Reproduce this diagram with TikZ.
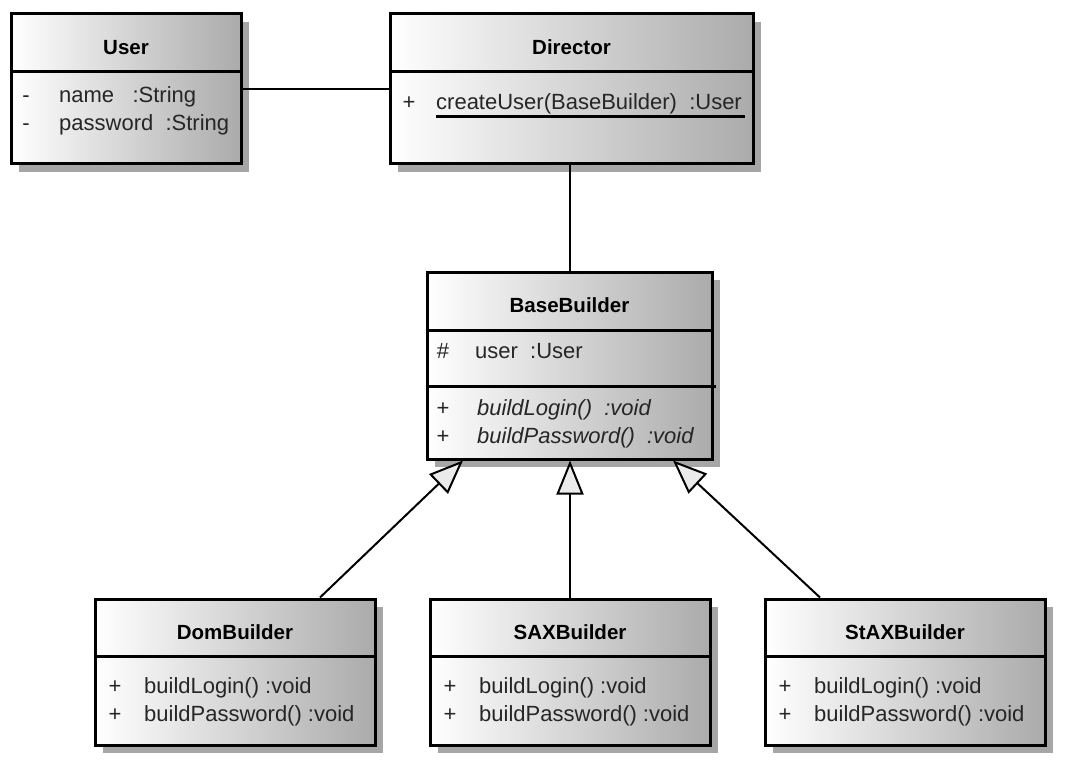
\documentclass[tikz,border=0pt]{standalone}
\usepackage{fontspec}
\setmainfont{Liberation Sans}
\usetikzlibrary{calc,shadows,arrows.meta}

\begin{document}
\begin{tikzpicture}[x=1pt, y=-1pt,
	cls/.style={draw, line width=3pt, inner sep=0, left color=white, right color=black!33,
		drop shadow={shadow xshift=8pt, shadow yshift=-8pt, fill=black!35, opacity=1}},
	title/.style={anchor=base, inner sep=0, font=\fontsize{20.5}{24}\selectfont\bfseries},
	vis/.style={anchor=base, inner sep=0, font=\fontsize{22}{26}\selectfont, text=black!85},
	member/.style={anchor=base west, inner sep=0, font=\fontsize{22}{26}\selectfont, text=black!85},
	divider/.style={line width=3pt},
	assoc/.style={line width=2pt},
	inherit/.style={line width=2pt, -{Triangle[open, fill=black!8, length=34pt, width=27pt]}}]
	\useasboundingbox (0,0) rectangle (1070,770);
	% classes
	\node [cls, minimum width=230, minimum height=150] (user) at (126,89) {};
	\node [cls, minimum width=363, minimum height=150] (director) at (571.5,89) {};
	\node [cls, minimum width=285, minimum height=187] (base) at (569.5,365.5) {};
	\node [cls, minimum width=280, minimum height=146] (dom) at (235,672) {};
	\node [cls, minimum width=280, minimum height=146] (sax) at ($(dom)+(335,0)$) {};
	\node [cls, minimum width=280, minimum height=146] (stax) at ($(sax)+(335,0)$) {};

	\draw [divider] (user.west |- 0,72) -- (user.east |- 0,72);
	\draw [divider] (director.west |- 0,72) -- (director.east |- 0,72);
	\draw [divider] (base.west |- 0,330) -- (base.east |- 0,330);
	\draw [divider] (base.west |- 0,386) -- (716,386);
	\draw [divider] (dom.west |- 0,656) -- (dom.east |- 0,656);
	\draw [divider] (sax.west |- 0,656) -- (sax.east |- 0,656);
	\draw [divider] (stax.west |- 0,656) -- (stax.east |- 0,656);

	% User
	\node [title] (userT) at (126,55) {User};
	\node [vis] (userV1) at (26,103) {-};
	\node [member] (userA1) at (59,103) {name~~~:String};
	\node [vis] (userV2) at (26,131) {-};
	\node [member] (userA2) at (59,131) {password~~:String};

	% Director
	\node [title] (dirT) at (571.5,55) {Director};
	\node [vis] (dirV) at (409,110) {+};
	\node [member] (dirOp) at (436,110) {createUser(BaseBuilder)~~:User};
	\draw [line width=3pt] ($(dirOp.base west)+(0,7)$) -- ++(309,0);

	% BaseBuilder
	\node [title] (baseT) at (569.5,312) {BaseBuilder};
	\node [vis] (baseV1) at (443,358) {\#};
	\node [member] (baseA) at (475,358) {user~~:User};
	\node [vis] (baseV2) at (443,415) {+};
	\node [member, font=\fontsize{22}{26}\selectfont\itshape] (baseOp1) at (477,415) {buildLogin()~~:void};
	\node [vis] (baseV3) at (443,443) {+};
	\node [member, font=\fontsize{22}{26}\selectfont\itshape] (baseOp2) at (477,443) {buildPassword()~~:void};

	% concrete builders
	\node [title] (domT) at (235,639) {DomBuilder};
	\node [vis] (domV1) at (115,693) {+};
	\node [member] (domOp1) at (144,693) {buildLogin()~:void};
	\node [vis] (domV2) at (115,721) {+};
	\node [member] (domOp2) at (144,721) {buildPassword()~:void};

	\node [title] (saxT) at (570,639) {SAXBuilder};
	\node [vis] (saxV1) at (450,693) {+};
	\node [member] (saxOp1) at (479,693) {buildLogin()~:void};
	\node [vis] (saxV2) at (450,721) {+};
	\node [member] (saxOp2) at (479,721) {buildPassword()~:void};

	\node [title] (staxT) at (905,639) {StAXBuilder};
	\node [vis] (staxV1) at (785,693) {+};
	\node [member] (staxOp1) at (814,693) {buildLogin()~:void};
	\node [vis] (staxV2) at (785,721) {+};
	\node [member] (staxOp2) at (814,721) {buildPassword()~:void};

	% links
	\draw [assoc] (user) -- (director);
	\draw [assoc] (director.south -| base.north) -- (base.north);
	\draw [inherit] ($(dom.north west)+(226.5,0)$) -- ($(base.south west)+(37.5,0)$);
	\draw [inherit] (sax.north) -- (sax.north |- base.south);
	\draw [inherit] ($(stax.north west)+(56.5,0)$) -- ($(base.south east)+(-40.5,0)$);
\end{tikzpicture}
\end{document}
